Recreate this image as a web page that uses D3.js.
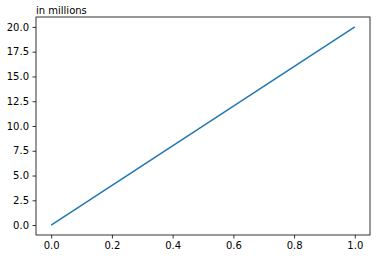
<!DOCTYPE html>
<html>
<head>
<meta charset="utf-8">
<script src="https://cdn.jsdelivr.net/npm/d3@7"></script>
<style>
body{margin:0;background:#fff;}
text{font-family:"DejaVu Sans",sans-serif;font-size:10px;fill:#000;}
</style>
</head>
<body>
<svg width="377" height="258"></svg>
<script>
// data
var xs=[0,1];
var ys=[0,20];
var xTicks=[0,0.2,0.4,0.6,0.8,1.0];
var yTicks=[0,2.5,5,7.5,10,12.5,15,17.5,20];
var yLabel="in millions";

var svg=d3.select("svg");
var m={left:36,top:17,right:370,bottom:235};

var x=d3.scaleLinear().domain([-0.05,1.05]).range([m.left,m.right]);
var y=d3.scaleLinear().domain([-1,21]).range([m.bottom,m.top]);

// axes
var gx=svg.append("g").attr("transform","translate(0,"+m.bottom+")")
	.call(d3.axisBottom(x).tickValues(xTicks).tickFormat(d3.format(".1f")).tickSize(3.5).tickPadding(3.5));
var gy=svg.append("g").attr("transform","translate("+m.left+",0)")
	.call(d3.axisLeft(y).tickValues(yTicks).tickFormat(d3.format(".1f")).tickSize(3.5).tickPadding(3.5));
[gx,gy].forEach(function(g){
	g.select(".domain").remove();
	g.selectAll(".tick line").attr("stroke","#000").attr("stroke-width",0.8);
	g.selectAll("text").attr("font-size",10).attr("font-family","DejaVu Sans");
});

// frame
svg.append("rect").attr("x",m.left).attr("y",m.top)
	.attr("width",m.right-m.left).attr("height",m.bottom-m.top)
	.attr("fill","none").attr("stroke","#000").attr("stroke-width",0.8);

// line
var pts=xs.map(function(d,i){return [d,ys[i]];});
svg.append("path").datum(pts)
	.attr("d",d3.line().x(function(d){return x(d[0]);}).y(function(d){return y(d[1]);}))
	.attr("fill","none").attr("stroke","#1f77b4").attr("stroke-width",1.5);

svg.append("text").attr("x",m.left).attr("y",m.top-3).text(yLabel);
</script>
</body>
</html>
